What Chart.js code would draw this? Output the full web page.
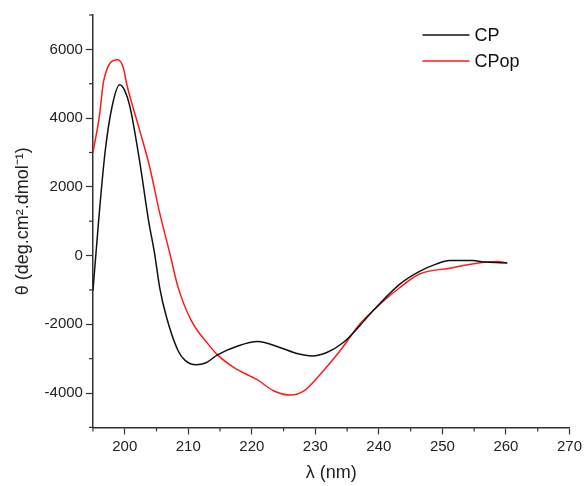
<!DOCTYPE html>
<html>
<head>
<meta charset="utf-8">
<script src="https://cdn.jsdelivr.net/npm/chart.js@4.4.1/dist/chart.umd.min.js"></script>
<style>
  body { margin: 0; background: #fff; }
  #wrap { width: 585px; height: 486px; }
</style>
</head>
<body>
<div id="wrap"><canvas id="myChart" width="585" height="486"></canvas></div>
<script>
// CD spectra
var cpWavelength = [195.0, 195.9, 196.9, 198.0, 199.2, 200.0, 200.8, 202.3, 203.75, 204.7, 205.5, 206.6, 208.4, 209.5, 211.25, 212.8, 214.6, 217.8, 220.9, 224.5, 227.1, 229.5, 231.8, 234.4, 237.0, 239.1, 243.3, 246.4, 249.0, 251.1, 254.7, 256.8, 260.2];
var cpTheta = [-1020, 1030, 3000, 4330, 4970, 4800, 4350, 2800, 1020, 60, -930, -1810, -2770, -3050, -3180, -3120, -2890, -2630, -2500, -2680, -2850, -2920, -2820, -2530, -2040, -1600, -830, -460, -250, -146, -146, -190, -214];

var cpopWavelength = [195.0, 196.0, 196.7, 198.9, 199.8, 200.3, 202.3, 203.9, 205.5, 207.1, 208.4, 210.5, 213.1, 214.6, 217.2, 220.9, 223.5, 226.1, 228.2, 230.8, 233.9, 237.0, 239.1, 243.3, 246.4, 251.1, 254.7, 258.7, 260.2];
var cpopTheta = [3000, 4040, 5100, 5700, 5450, 5000, 3680, 2600, 1240, 60, -925, -1900, -2570, -2890, -3260, -3620, -3940, -4060, -3940, -3450, -2770, -1990, -1600, -930, -535, -370, -243, -175, -214];

var seriesLabels = ['CP', 'CPop'];
var seriesColors = ['#111111', '#ff1a1a'];

function toPoints(xs, ys) {
    var pts = [];
    for (let i = 0; i < xs.length; i++) {
        pts.push({ x: xs[i], y: ys[i] });
    }
    return pts;
}

var fontFamily = '"Liberation Sans", Arial, sans-serif';
var axisColor = '#333';

// short minor ticks (Chart.js only draws one tick length)
var minorTicks = {
    id: 'minorTicks',
    afterDraw: function (chart) {
        var ctx = chart.ctx;
        ctx.save();
        ctx.strokeStyle = axisColor;
        ctx.lineWidth = 1.2;
        var xs = chart.scales.x, ys = chart.scales.y;
        for (let v = xs.min; v <= xs.max; v += 5) {
            if (v % 10 !== 0) {
                var px = xs.getPixelForValue(v);
                ctx.beginPath();
                ctx.moveTo(px, xs.top);
                ctx.lineTo(px, xs.top + 4);
                ctx.stroke();
            }
        }
        for (let v = ys.min; v <= ys.max; v += 1000) {
            if (Math.abs(v % 2000) !== 0) {
                var py = ys.getPixelForValue(v);
                ctx.beginPath();
                ctx.moveTo(ys.right, py);
                ctx.lineTo(ys.right - 4, py);
                ctx.stroke();
            }
        }
        ctx.restore();
    }
};

// legend in the top right corner of the plot
var cornerLegend = {
    id: 'cornerLegend',
    afterDraw: function (chart) {
        var ctx = chart.ctx;
        var area = chart.chartArea;
        var x0 = area.right - 147;
        ctx.save();
        ctx.font = '18px ' + fontFamily;
        ctx.textBaseline = 'middle';
        chart.data.datasets.forEach(function (ds, i) {
            var y = area.top + 20 + i * 26;
            ctx.strokeStyle = ds.borderColor;
            ctx.lineWidth = 1.5;
            ctx.beginPath();
            ctx.moveTo(x0, y);
            ctx.lineTo(x0 + 47, y);
            ctx.stroke();
            ctx.fillStyle = '#111';
            ctx.fillText(ds.label, x0 + 52, y + 1);
        });
        ctx.restore();
    }
};

var ctx = document.getElementById('myChart').getContext('2d');
var myChart = new Chart(ctx, {
    type: 'line',
    data: {
        datasets: [{
            label: seriesLabels[0],
            data: toPoints(cpWavelength, cpTheta),
            borderColor: seriesColors[0],
            borderWidth: 1.5,
            pointRadius: 0,
            cubicInterpolationMode: 'monotone'
        }, {
            label: seriesLabels[1],
            data: toPoints(cpopWavelength, cpopTheta),
            borderColor: seriesColors[1],
            borderWidth: 1.5,
            pointRadius: 0,
            cubicInterpolationMode: 'monotone'
        }]
    },
    options: {
        responsive: false,
        animation: false,
        layout: { padding: { top: 15, right: 0, left: 12, bottom: 2 } },
        plugins: {
            legend: { display: false },
            tooltip: { enabled: false }
        },
        scales: {
            x: {
                type: 'linear',
                min: 195,
                max: 270,
                border: { color: axisColor, width: 1.5 },
                grid: {
                    drawOnChartArea: false,
                    tickLength: 7,
                    tickWidth: 1.2,
                    tickColor: function (c) {
                        return (c.tick && c.tick.value % 10 === 0) ? axisColor : 'rgba(0,0,0,0)';
                    }
                },
                ticks: {
                    stepSize: 5,
                    autoSkip: false,
                    maxRotation: 0,
                    color: '#222',
                    font: { family: fontFamily, size: 15 },
                    callback: function (v) { return v % 10 === 0 ? v : ''; }
                },
                title: {
                    display: true,
                    text: 'λ (nm)',
                    color: '#222',
                    font: { family: fontFamily, size: 18 },
                    padding: { top: 4, bottom: 0 }
                }
            },
            y: {
                min: -5000,
                max: 7000,
                border: { color: axisColor, width: 1.5 },
                grid: {
                    drawOnChartArea: false,
                    tickLength: 7,
                    tickWidth: 1.2,
                    tickColor: function (c) {
                        return (c.tick && c.tick.value % 2000 === 0) ? axisColor : 'rgba(0,0,0,0)';
                    }
                },
                ticks: {
                    stepSize: 1000,
                    autoSkip: false,
                    color: '#222',
                    font: { family: fontFamily, size: 15 },
                    callback: function (v) { return v % 2000 === 0 ? v : ''; }
                },
                title: {
                    display: true,
                    text: 'θ (deg.cm².dmol⁻¹)',
                    color: '#222',
                    font: { family: fontFamily, size: 18 },
                    padding: { top: 0, bottom: 8 }
                }
            }
        }
    },
    plugins: [minorTicks, cornerLegend]
});
</script>
</body>
</html>
